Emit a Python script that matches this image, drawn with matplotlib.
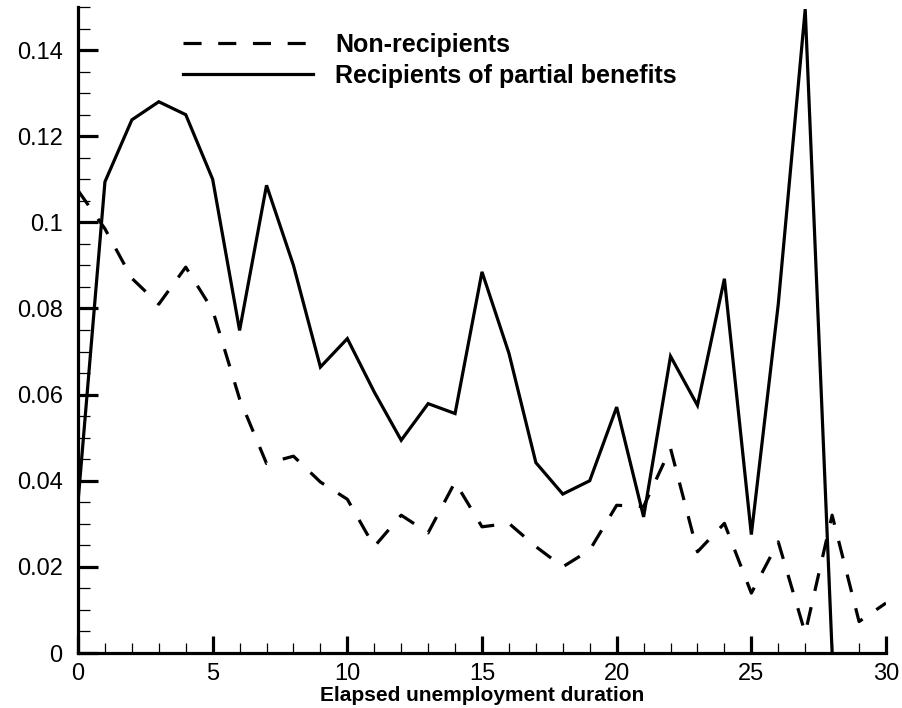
import matplotlib
matplotlib.use("Agg")
import matplotlib.pyplot as plt
from matplotlib.ticker import MultipleLocator, FixedLocator, FixedFormatter

plt.rcParams['font.family'] = ['Liberation Sans', 'DejaVu Sans']
plt.rcParams['lines.scale_dashes'] = False

# Data
duration_nonrec = list(range(0, 31))
nonrecipients = [0.1074, 0.0985, 0.087, 0.081, 0.0896, 0.0796, 0.059, 0.044, 0.0457, 0.0397,
                 0.0357, 0.0247, 0.032, 0.0279, 0.0397, 0.0293, 0.0301, 0.0247, 0.020, 0.0239,
                 0.0343, 0.034, 0.0475, 0.0235, 0.0301, 0.0139, 0.0258, 0.0046, 0.032, 0.0073,
                 0.0116]
duration_rec = list(range(0, 29))
recipients = [0.035, 0.1094, 0.1238, 0.128, 0.125, 0.110, 0.0749, 0.1086, 0.090, 0.0664,
              0.073, 0.0606, 0.0494, 0.0579, 0.0556, 0.0885, 0.0696, 0.0442, 0.0369, 0.040,
              0.0571, 0.0316, 0.0689, 0.0575, 0.0869, 0.0275, 0.081, 0.1495, 0.0]

labels = ["Non-recipients", "Recipients of partial benefits"]
xlabel = "Elapsed unemployment duration"
yticks = [0, 0.02, 0.04, 0.06, 0.08, 0.1, 0.12, 0.14]
yticklabels = ["0", "0.02", "0.04", "0.06", "0.08", "0.1", "0.12", "0.14"]
xticks = [0, 5, 10, 15, 20, 25, 30]
xticklabels = ["0", "5", "10", "15", "20", "25", "30"]

W, H = 902, 708
fig = plt.figure(figsize=(W / 100, H / 100), dpi=100)
ax = fig.add_axes([78 / W, 1 - 653 / H, (886 - 78) / W, (653 - 7) / H])

lw = 2.3
ax.plot(duration_nonrec, nonrecipients, color='black', lw=lw, dashes=(13, 12),
        label=labels[0], solid_joinstyle='miter', dash_capstyle='butt')
ax.plot(duration_rec, recipients, color='black', lw=lw, label=labels[1],
        solid_joinstyle='miter')

ax.set_xlim(0, 30)
ax.set_ylim(0, 0.15)

for s in ['top', 'right']:
    ax.spines[s].set_visible(False)
for s in ['left', 'bottom']:
    ax.spines[s].set_linewidth(2.3)

ax.xaxis.set_major_locator(FixedLocator(xticks))
ax.xaxis.set_major_formatter(FixedFormatter(xticklabels))
ax.xaxis.set_minor_locator(MultipleLocator(1))
ax.yaxis.set_major_locator(FixedLocator(yticks))
ax.yaxis.set_major_formatter(FixedFormatter(yticklabels))
ax.yaxis.set_minor_locator(MultipleLocator(0.005))

ax.tick_params(axis='both', which='both', direction='in', colors='black')
ax.tick_params(axis='x', which='major', length=12, width=2.3, pad=7, labelsize=17)
ax.tick_params(axis='x', which='minor', length=7, width=0.9)
ax.tick_params(axis='y', which='major', length=14.5, width=2.3, pad=11, labelsize=17)
ax.tick_params(axis='y', which='minor', length=8.5, width=0.9)

ax.set_xlabel(xlabel, fontsize=15, fontweight='bold', labelpad=1)

leg = ax.legend(loc='upper left', bbox_to_anchor=(183 / W, 1 - 33 / H),
                bbox_transform=fig.transFigure, frameon=False,
                prop={'weight': 'bold', 'size': 18},
                handlelength=5.2, handletextpad=0.88, labelspacing=0.26,
                borderpad=0, borderaxespad=0)

fig.savefig("out.png", dpi=100)
